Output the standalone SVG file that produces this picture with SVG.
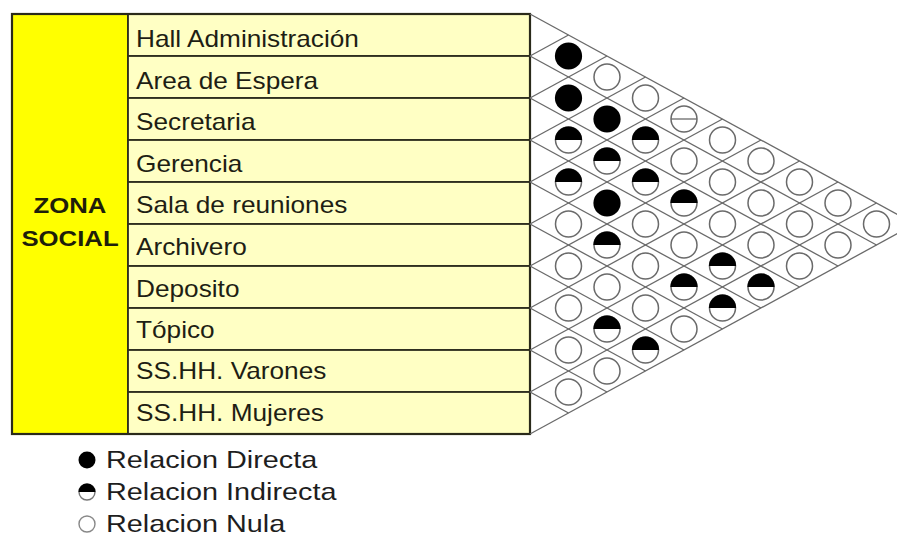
<svg xmlns="http://www.w3.org/2000/svg" xmlns:xlink="http://www.w3.org/1999/xlink" width="897" height="537" viewBox="0 0 897 537">
<style>
.lbl{font-family:"Liberation Sans",Arial,Helvetica,sans-serif;font-size:23px;fill:#1e1e14}
.zone{font-family:"Liberation Sans",Arial,Helvetica,sans-serif;font-size:23px;font-weight:bold;fill:#1e1e0a;text-anchor:middle}
.leg{font-family:"Liberation Sans",Arial,Helvetica,sans-serif;font-size:24px;fill:#1e1e1e}
.cell{fill:#FFFFC4;stroke:#2e2e1e;stroke-width:1.8}
.grid line{stroke:#6a6a6a;stroke-width:1.3;fill:none}
.open{fill:#fff;stroke:#6a6a6a;stroke-width:1.5}
</style>
<defs>
<g id="cF"><circle r="13.6" fill="#000"/></g>
<g id="cH"><circle r="13" class="open"/><path d="M-13.6,0 A13.6,13.6 0 0 1 13.6,0 Z" fill="#000"/></g>
<g id="cO"><circle r="13" class="open"/></g>
<g id="cL"><circle r="13" class="open"/><line x1="-13" y1="0" x2="13" y2="0" stroke="#6a6a6a" stroke-width="1.3"/></g>
</defs>
<rect width="897" height="537" fill="#fff"/>

<g id="zona-social">
<rect x="12" y="14" width="116" height="420" fill="#FFFF00" stroke="#2e2e1e" stroke-width="2"/>
<text class="zone" transform="translate(70 213) scale(1.12 1)">ZONA</text>
<text class="zone" transform="translate(70 246) scale(1.12 1)">SOCIAL</text>
</g>

<g id="row-hall"><rect class="cell" x="128" y="14" width="402" height="42"/><text class="lbl" transform="translate(136 47) scale(1.14 1)">Hall Administración</text></g>
<g id="row-espera"><rect class="cell" x="128" y="56" width="402" height="42"/><text class="lbl" transform="translate(136 89) scale(1.14 1)">Area de Espera</text></g>
<g id="row-secretaria"><rect class="cell" x="128" y="98" width="402" height="42"/><text class="lbl" transform="translate(136 130) scale(1.14 1)">Secretaria</text></g>
<g id="row-gerencia"><rect class="cell" x="128" y="140" width="402" height="42"/><text class="lbl" transform="translate(136 172) scale(1.14 1)">Gerencia</text></g>
<g id="row-sala"><rect class="cell" x="128" y="182" width="402" height="42"/><text class="lbl" transform="translate(136 213) scale(1.14 1)">Sala de reuniones</text></g>
<g id="row-archivero"><rect class="cell" x="128" y="224" width="402" height="42"/><text class="lbl" transform="translate(136 255) scale(1.14 1)">Archivero</text></g>
<g id="row-deposito"><rect class="cell" x="128" y="266" width="402" height="42"/><text class="lbl" transform="translate(136 297) scale(1.14 1)">Deposito</text></g>
<g id="row-topico"><rect class="cell" x="128" y="308" width="402" height="42"/><text class="lbl" transform="translate(136 338) scale(1.14 1)">Tópico</text></g>
<g id="row-varones"><rect class="cell" x="128" y="350" width="402" height="42"/><text class="lbl" transform="translate(136 379) scale(1.14 1)">SS.HH. Varones</text></g>
<g id="row-mujeres"><rect class="cell" x="128" y="392" width="402" height="42"/><text class="lbl" transform="translate(136 421) scale(1.14 1)">SS.HH. Mujeres</text></g>
<rect x="12" y="14" width="518" height="420" fill="none" stroke="#2a2a1a" stroke-width="2.2"/>

<g id="connectors" class="grid">
<line x1="530" y1="14" x2="915" y2="224"/>
<line x1="530" y1="56" x2="876.5" y2="245"/>
<line x1="530" y1="98" x2="838" y2="266"/>
<line x1="530" y1="140" x2="799.5" y2="287"/>
<line x1="530" y1="182" x2="761" y2="308"/>
<line x1="530" y1="224" x2="722.5" y2="329"/>
<line x1="530" y1="266" x2="684" y2="350"/>
<line x1="530" y1="308" x2="645.5" y2="371"/>
<line x1="530" y1="350" x2="607" y2="392"/>
<line x1="530" y1="392" x2="568.5" y2="413"/>
<line x1="530" y1="56" x2="568.5" y2="35"/>
<line x1="530" y1="98" x2="607" y2="56"/>
<line x1="530" y1="140" x2="645.5" y2="77"/>
<line x1="530" y1="182" x2="684" y2="98"/>
<line x1="530" y1="224" x2="722.5" y2="119"/>
<line x1="530" y1="266" x2="761" y2="140"/>
<line x1="530" y1="308" x2="799.5" y2="161"/>
<line x1="530" y1="350" x2="838" y2="182"/>
<line x1="530" y1="392" x2="876.5" y2="203"/>
<line x1="530" y1="434" x2="915" y2="224"/>
</g>

<g id="relations">
<use xlink:href="#cF" x="568.5" y="56"/>
<use xlink:href="#cF" x="568.5" y="98"/>
<use xlink:href="#cH" x="568.5" y="140"/>
<use xlink:href="#cH" x="568.5" y="182"/>
<use xlink:href="#cO" x="568.5" y="224"/>
<use xlink:href="#cO" x="568.5" y="266"/>
<use xlink:href="#cO" x="568.5" y="308"/>
<use xlink:href="#cO" x="568.5" y="350"/>
<use xlink:href="#cO" x="568.5" y="392"/>

<use xlink:href="#cO" x="607" y="77"/>
<use xlink:href="#cF" x="607" y="119"/>
<use xlink:href="#cH" x="607" y="161"/>
<use xlink:href="#cF" x="607" y="203"/>
<use xlink:href="#cH" x="607" y="245"/>
<use xlink:href="#cO" x="607" y="287"/>
<use xlink:href="#cH" x="607" y="329"/>
<use xlink:href="#cO" x="607" y="371"/>

<use xlink:href="#cO" x="645.5" y="98"/>
<use xlink:href="#cH" x="645.5" y="140"/>
<use xlink:href="#cH" x="645.5" y="182"/>
<use xlink:href="#cO" x="645.5" y="224"/>
<use xlink:href="#cO" x="645.5" y="266"/>
<use xlink:href="#cO" x="645.5" y="308"/>
<use xlink:href="#cH" x="645.5" y="350"/>

<use xlink:href="#cL" x="684" y="119"/>
<use xlink:href="#cO" x="684" y="161"/>
<use xlink:href="#cH" x="684" y="203"/>
<use xlink:href="#cO" x="684" y="245"/>
<use xlink:href="#cH" x="684" y="287"/>
<use xlink:href="#cO" x="684" y="329"/>

<use xlink:href="#cO" x="722.5" y="140"/>
<use xlink:href="#cO" x="722.5" y="182"/>
<use xlink:href="#cO" x="722.5" y="224"/>
<use xlink:href="#cH" x="722.5" y="266"/>
<use xlink:href="#cH" x="722.5" y="308"/>

<use xlink:href="#cO" x="761" y="161"/>
<use xlink:href="#cO" x="761" y="203"/>
<use xlink:href="#cO" x="761" y="245"/>
<use xlink:href="#cH" x="761" y="287"/>

<use xlink:href="#cO" x="799.5" y="182"/>
<use xlink:href="#cO" x="799.5" y="224"/>
<use xlink:href="#cO" x="799.5" y="266"/>

<use xlink:href="#cO" x="838" y="203"/>
<use xlink:href="#cO" x="838" y="245"/>

<use xlink:href="#cO" x="876.5" y="224"/>
</g>

<g id="legend">
<circle cx="87" cy="460" r="8.5" fill="#000"/>
<text class="leg" transform="translate(106 468) scale(1.2 1)">Relacion Directa</text>
<circle cx="87" cy="492" r="8" fill="#fff" stroke="#777" stroke-width="1.4"/>
<path d="M78.5,492 A8.5,8.5 0 0 1 95.5,492 Z" fill="#000"/>
<text class="leg" transform="translate(106 500) scale(1.2 1)">Relacion Indirecta</text>
<circle cx="87" cy="524" r="8" fill="#fff" stroke="#888" stroke-width="1.4"/>
<text class="leg" transform="translate(106 532) scale(1.2 1)">Relacion Nula</text>
</g>
</svg>
